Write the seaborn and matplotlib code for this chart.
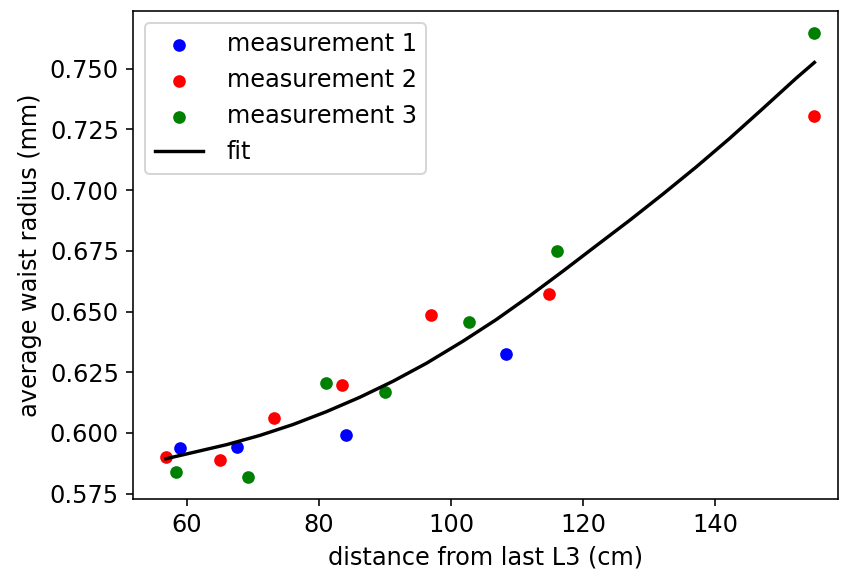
import matplotlib
matplotlib.use("Agg")
import matplotlib.pyplot as plt
import seaborn as sns
import pandas as pd

# measurement data (distance in cm, average waist radius in mm)
m1_x = [59.0, 67.5, 84.0, 108.3]
m1_y = [0.5938, 0.5941, 0.5991, 0.6324]

m2_x = [56.8, 65.0, 73.2, 83.5, 97.0, 114.9, 154.9]
m2_y = [0.5900, 0.5890, 0.6061, 0.6196, 0.6485, 0.6571, 0.7304]

m3_x = [58.35, 69.3, 81.1, 90.0, 102.7, 116.0, 154.9]
m3_y = [0.5839, 0.5818, 0.6204, 0.6167, 0.6458, 0.6748, 0.7648]

# fit curve
fit_x = [56.79, 60.92, 65.98, 71.02, 76.06, 81.12, 86.16, 91.20, 96.26, 101.80,
         106.85, 111.89, 116.93, 121.99, 127.03, 132.07, 137.13, 142.17, 147.21,
         152.26, 155.03]
fit_y = [0.5894, 0.5920, 0.5952, 0.5990, 0.6035, 0.6088, 0.6147, 0.6213, 0.6287, 0.6378,
         0.6467, 0.6564, 0.6666, 0.6771, 0.6875, 0.6983, 0.7095, 0.7212, 0.7335,
         0.7460, 0.7525]

series = [
    ("measurement 1", m1_x, m1_y, "blue"),
    ("measurement 2", m2_x, m2_y, "red"),
    ("measurement 3", m3_x, m3_y, "green"),
]

plt.rcParams["font.size"] = 12
plt.rcParams["font.family"] = ["DejaVu Sans"]

dpi = 144
fig = plt.figure(figsize=(841 / dpi, 579 / dpi), dpi=dpi)
ax = fig.add_axes([0.1581, 0.1376, 0.9964 - 0.1581, 0.9815 - 0.1376])

for label, xs, ys, col in series:
    df = pd.DataFrame({"x": xs, "y": ys})
    sns.scatterplot(data=df, x="x", y="y", ax=ax, color=col, s=40,
                    linewidth=0, label=label, zorder=2)

fit_df = pd.DataFrame({"x": fit_x, "y": fit_y})
sns.lineplot(data=fit_df, x="x", y="y", ax=ax, color="black", linewidth=1.7,
             label="fit", sort=True, estimator=None, zorder=3)

ax.set_xlim(51.8, 158.6)
ax.set_ylim(0.5727, 0.7738)
ax.set_xticks([60, 80, 100, 120, 140])
yt = [0.575, 0.600, 0.625, 0.650, 0.675, 0.700, 0.725, 0.750]
ax.set_yticks(yt)
ax.set_yticklabels([f"{v:.3f}" for v in yt])
ax.set_xlabel("distance from last L3 (cm)")
ax.set_ylabel("average waist radius (mm)")
ax.legend(loc="upper left", fontsize=12, handletextpad=1.0)

fig.savefig("out.png", dpi=dpi)
